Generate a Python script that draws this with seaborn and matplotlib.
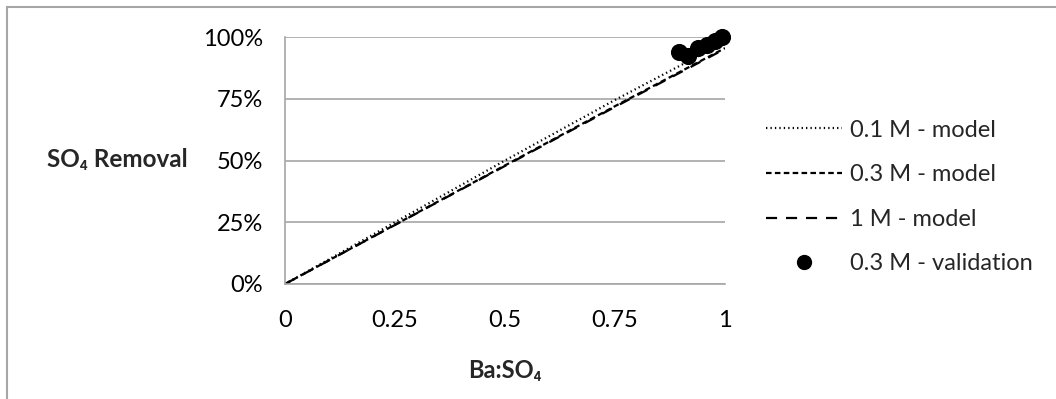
import matplotlib
matplotlib.use("Agg")
import matplotlib.pyplot as plt
import seaborn as sns
import pandas as pd
from matplotlib.lines import Line2D
from matplotlib.patches import Rectangle
from matplotlib.ticker import FuncFormatter

# ---- data ----
ratio = [0.0, 0.25, 0.5, 0.75, 1.0]
model_01M = [0.0, 0.25, 0.50, 0.745, 0.98]
model_03M = [0.0, 0.24, 0.48, 0.72, 0.955]
model_1M = [0.0, 0.239, 0.478, 0.717, 0.952]

val_ratio = [0.895, 0.916, 0.939, 0.959, 0.977, 0.993]
val_removal = [0.939, 0.923, 0.955, 0.967, 0.984, 1.0]

series_labels = ["0.1 M - model", "0.3 M - model", "1 M - model", "0.3 M - validation"]
x_ticks = [0, 0.25, 0.5, 0.75, 1]
x_tick_labels = ["0", "0.25", "0.5", "0.75", "1"]
y_ticks = [0, 0.25, 0.5, 0.75, 1.0]

sns.set_theme(style="white")
plt.rcParams["font.family"] = ["Lato", "DejaVu Sans"]
FS = 17

fig = plt.figure(figsize=(10.56, 3.99), dpi=100)
ax = fig.add_axes([285/1056, 1-284/399, 440/1056, 247/399])

df = pd.DataFrame({"x": ratio * 3,
                   "y": model_01M + model_03M + model_1M,
                   "s": [series_labels[0]]*5 + [series_labels[1]]*5 + [series_labels[2]]*5})

sns.lineplot(data=df[df.s == series_labels[0]], x="x", y="y", ax=ax, color="black",
             lw=1.6, linestyle=(0, (0.6, 1.4)), legend=False)
sns.lineplot(data=df[df.s == series_labels[1]], x="x", y="y", ax=ax, color="black",
             lw=1.6, linestyle=(0, (2.5, 1.5)), legend=False)
sns.lineplot(data=df[df.s == series_labels[2]], x="x", y="y", ax=ax, color="black",
             lw=1.6, linestyle=(0, (5, 4)), legend=False)
sns.scatterplot(x=val_ratio, y=val_removal, ax=ax, color="black", s=130,
                edgecolor="black", zorder=5, legend=False, clip_on=False)

ax.set_xlim(0, 1)
ax.set_ylim(0, 1)
ax.set_xticks(x_ticks)
ax.set_xticklabels(x_tick_labels)
ax.set_yticks(y_ticks)
ax.yaxis.set_major_formatter(FuncFormatter(lambda v, p: f"{v*100:.0f}%"))
ax.grid(axis="y", color="#a6a6a6", lw=1.2)
ax.set_axisbelow(True)
for sp in ["top", "right"]:
    ax.spines[sp].set_visible(False)
ax.spines["left"].set_color("#a6a6a6")
ax.spines["bottom"].set_color("#a6a6a6")
ax.spines["left"].set_linewidth(1.2)
ax.spines["bottom"].set_linewidth(1.2)
ax.tick_params(axis="both", labelsize=FS, length=0, colors="black")
ax.tick_params(axis="x", pad=19)
ax.tick_params(axis="y", pad=16)

ax.set_xlabel("Ba:SO\u2084", fontsize=FS, fontweight="bold", labelpad=20)
ax.set_ylabel("")
fig.text(188/1056, 1-160/399, "SO\u2084 Removal", fontsize=FS + 0.5, fontweight="bold",
         ha="right", va="center")

handles = [
    Line2D([], [], color="black", lw=1.6, linestyle=(0, (0.6, 1.4))),
    Line2D([], [], color="black", lw=1.6, linestyle=(0, (2.5, 1.5))),
    Line2D([], [], color="black", lw=1.6, linestyle=(0, (5, 4))),
    Line2D([], [], color="black", marker="o", markersize=10, lw=0),
]
fig.legend(handles, series_labels, loc="center left",
           bbox_to_anchor=(745/1056, 1-197/399), frameon=False, fontsize=FS,
           handlelength=3.2, labelspacing=1.0, handletextpad=0.35)

fig.patches.append(Rectangle((7/1056, -0.1), 1.2, 1 - 7/399 + 0.1, transform=fig.transFigure,
                             fill=False, edgecolor="#a6a6a6", lw=1.5))

fig.savefig("out.png", dpi=100)
